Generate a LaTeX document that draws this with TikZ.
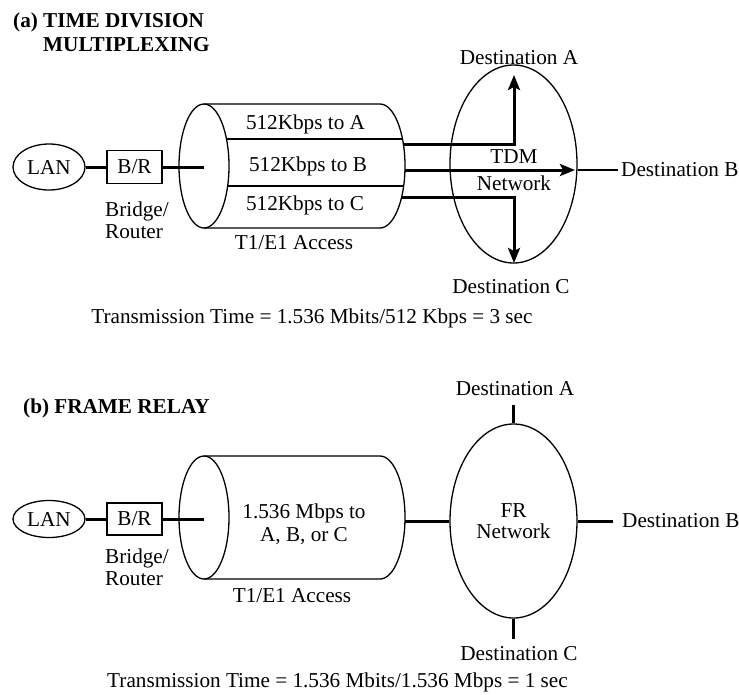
\documentclass[tikz,border=0pt]{standalone}
\usepackage{fontspec}
\setmainfont{Liberation Serif}
\usetikzlibrary{arrows.meta,shapes.geometric}
\begin{document}
\begin{tikzpicture}[x=1pt,y=1pt,
  thinline/.style={line width=1.3pt},
  midline/.style={line width=2.2pt},
  thickline/.style={line width=3pt},
  arr/.style={-{Stealth[length=15pt,width=12pt,inset=3pt]}},
  txt/.style={font=\fontsize{21.2}{22}\selectfont, inner sep=0pt},
  ttl/.style={font=\fontsize{21.2}{24}\selectfont\bfseries, inner sep=0pt, align=left, anchor=north west},
  lan/.style={ellipse, draw, thinline, inner sep=0pt, minimum width=72pt, font=\fontsize{21.2}{22}\selectfont},
  brbox/.style={rectangle, draw, thinline, inner sep=0pt, minimum width=55pt, font=\fontsize{21.2}{22}\selectfont},
  net/.style={ellipse, draw, thinline, inner sep=0pt, minimum width=127pt, align=center},
]
\useasboundingbox (0,0) rectangle (739,-694);

% ---------------- (a) TIME DIVISION MULTIPLEXING ----------------
\node[ttl] (titleA) at (13,-13) {(a) TIME DIVISION\\\hphantom{(a) }MULTIPLEXING};

\node[lan, minimum height=46pt] (lanA) at (49,-167) {LAN};
\node[brbox, minimum height=33pt] (brA) at (134.5,-167) {B/R};
\node[txt, align=left, anchor=west] (bridgeA) at (105,-220) {Bridge/\\Router};

% cylinder A
\draw[thinline] (204,-166) ellipse [x radius=25, y radius=62];
\draw[thinline] (204,-104) -- (380,-104) arc[start angle=90, end angle=-90, x radius=25, y radius=62] -- (204,-228);
\draw[thinline] (226.5,-139) -- (402.5,-139);
\draw[thinline] (227.7,-186) -- (403.7,-186);
\node[txt] (chA) at (305.5,-124) {512Kbps to A};
\node[txt] (chB) at (308,-166.5) {512Kbps to B};
\node[txt] (chC) at (305,-205) {512Kbps to C};
\node[txt] (accA) at (294,-243) {T1/E1 Access};
\coordinate (cylAin) at (204,-167);

\draw[thickline] (lanA) -- (brA);
\draw[thickline] (brA) -- (cylAin);

% TDM network
\node[net, minimum height=198pt] (tdm) at (513.5,-164) {};
\node[txt, align=center, font=\fontsize{21.2}{27}\selectfont] (tdmlbl) at (514,-170) {TDM\\Network};
\node[txt] (dA1) at (519,-58) {Destination A};
\node[txt] (dC1) at (511,-287) {Destination C};
\node[txt, anchor=west] (dB1) at (621,-170) {Destination B};

\coordinate (aStart) at (403.4,-144);
\coordinate (aTip) at (514,-75);
\coordinate (bStart) at (405,-170);
\coordinate (bTip) at (575,-170);
\coordinate (cStart) at (401.7,-197);
\coordinate (cTip) at (514,-263);
\coordinate (bLineEnd) at (618,-170);
\draw[thickline, arr] (aStart) -| (aTip);
\draw[thickline, arr] (bStart) -- (bTip);
\draw[thickline, arr] (cStart) -| (cTip);
\draw[midline] (bLineEnd -| tdm.east) -- (bLineEnd);

\node[txt] (transA) at (312,-318) {Transmission Time = 1.536 Mbits/512 Kbps = 3 sec};

% ---------------- (b) FRAME RELAY ----------------
\node[ttl] (titleB) at (23,-399) {(b) FRAME RELAY};

\node[lan, minimum height=37pt] (lanB) at (49,-519) {LAN};
\node[brbox, minimum height=32pt] (brB) at (134.5,-519) {B/R};
\node[txt, align=left, anchor=west] (bridgeB) at (105,-567) {Bridge/\\Router};

% cylinder B
\draw[thinline] (204,-517.5) ellipse [x radius=25, y radius=61.5];
\draw[thinline] (204,-456) -- (380,-456) arc[start angle=90, end angle=-90, x radius=25, y radius=61.5] -- (204,-579);
\node[txt, align=center, font=\fontsize{21.2}{23}\selectfont] (chFR) at (304,-524) {1.536 Mbps to\\A, B, or C};
\node[txt] (accB) at (292,-596) {T1/E1 Access};
\coordinate (cylBin) at (204,-519);
\coordinate (cylBout) at (405,-521);

\draw[thickline] (lanB) -- (brB);
\draw[thickline] (brB) -- (cylBin);

% FR network
\node[net, minimum height=194pt, font=\fontsize{21.2}{21}\selectfont] (fr) at (513.5,-521) {FR\\Network};
\node[txt] (dA2) at (515,-389) {Destination A};
\node[txt] (dC2) at (519,-654) {Destination C};
\node[txt, anchor=west] (dB2) at (622,-521) {Destination B};
\coordinate (sA) at (513.5,-405);
\coordinate (sC) at (513.5,-639);
\coordinate (sB) at (613,-521);

\draw[thickline] (cylBout) -- (fr.west);
\draw[thickline] (fr.north) -- (sA);
\draw[thickline] (fr.south) -- (sC);
\draw[thickline] (fr.east) -- (sB);

\node[txt] (transB) at (337.5,-682) {Transmission Time = 1.536 Mbits/1.536 Mbps = 1 sec};
\end{tikzpicture}
\end{document}
